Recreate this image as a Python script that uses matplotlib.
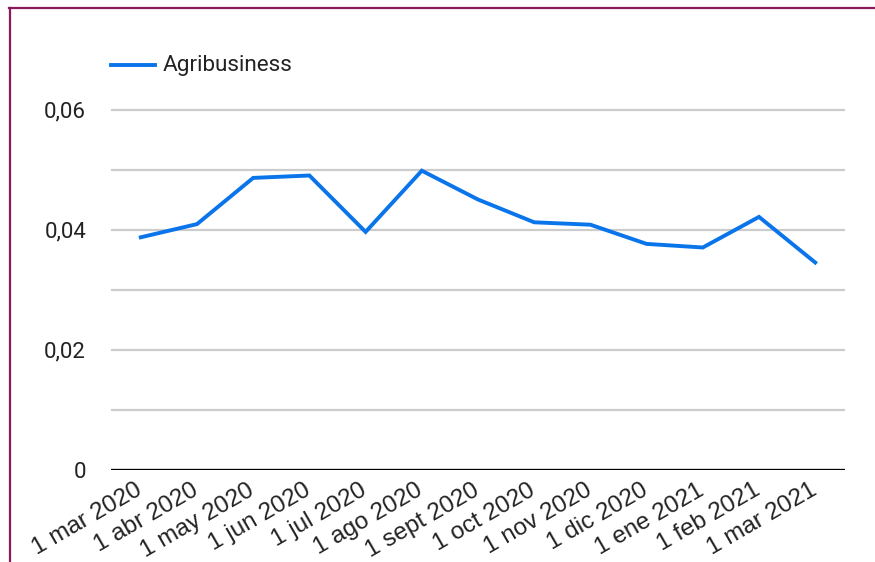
import matplotlib
matplotlib.use("Agg")
import matplotlib.pyplot as plt
import matplotlib.transforms as mtransforms
from matplotlib.lines import Line2D

dates = ["1 mar 2020", "1 abr 2020", "1 may 2020", "1 jun 2020", "1 jul 2020",
         "1 ago 2020", "1 sept 2020", "1 oct 2020", "1 nov 2020", "1 dic 2020",
         "1 ene 2021", "1 feb 2021", "1 mar 2021"]
agribusiness = [0.0387, 0.0409, 0.0486, 0.0490, 0.0396, 0.0498, 0.0450,
                0.0412, 0.0408, 0.0376, 0.0370, 0.0421, 0.0345]
grid_vals = [0.01, 0.02, 0.03, 0.04, 0.05, 0.06]
ytick_vals = [0, 0.02, 0.04, 0.06]
ytick_labels = ["0", "0,02", "0,04", "0,06"]
series_name = "Agribusiness"

W, H = 875, 562
fig = plt.figure(figsize=(W / 100, H / 100), dpi=100)
ax = fig.add_axes([111 / W, (H - 469.5) / H, (845 - 111) / W, (469.5 - 49.5) / H])

for g in grid_vals:
    ax.axhline(g, color="#cccccc", lw=1.6, zorder=1)
ax.axhline(0, color="black", lw=2.4, zorder=3)

x = list(range(len(dates)))
ax.plot(x, agribusiness, color="#0a74ea", lw=2.8, zorder=4, solid_joinstyle="miter")

ax.set_xlim(-0.53, len(dates) - 1 + 0.53)
ax.set_ylim(0, 0.07)
ax.set_yticks(ytick_vals)
ax.set_yticklabels(ytick_labels, fontsize=16, family="Roboto", color="#222222")
ax.set_xticks(x)
ax.set_xticklabels(dates, rotation=30, ha="right", rotation_mode="anchor",
                   fontsize=17.5, family="Liberation Sans", color="#222222")
ax.tick_params(axis="both", length=0)
ax.tick_params(axis="y", pad=18)
ax.tick_params(axis="x", pad=7)
offset = mtransforms.ScaledTranslation(-6 / 100, 0, fig.dpi_scale_trans)
for lab in ax.get_xticklabels():
    lab.set_transform(lab.get_transform() + offset)
for s in ax.spines.values():
    s.set_visible(False)

# legend
fig.add_artist(Line2D([111 / W, 155 / W], [(H - 65) / H] * 2, color="#0a74ea", lw=2.8))
fig.text(163 / W, (H - 65) / H, series_name, fontsize=16.2, family="Roboto",
         va="center", ha="left", color="#222222")

# frame
border = "#8c1a5a"
fig.add_artist(Line2D([9 / W, 1.0], [(H - 8) / H] * 2, color=border, lw=1.6))
fig.add_artist(Line2D([10 / W, 10 / W], [0, (H - 8) / H], color=border, lw=1.6))

fig.savefig("out.png", dpi=100)
